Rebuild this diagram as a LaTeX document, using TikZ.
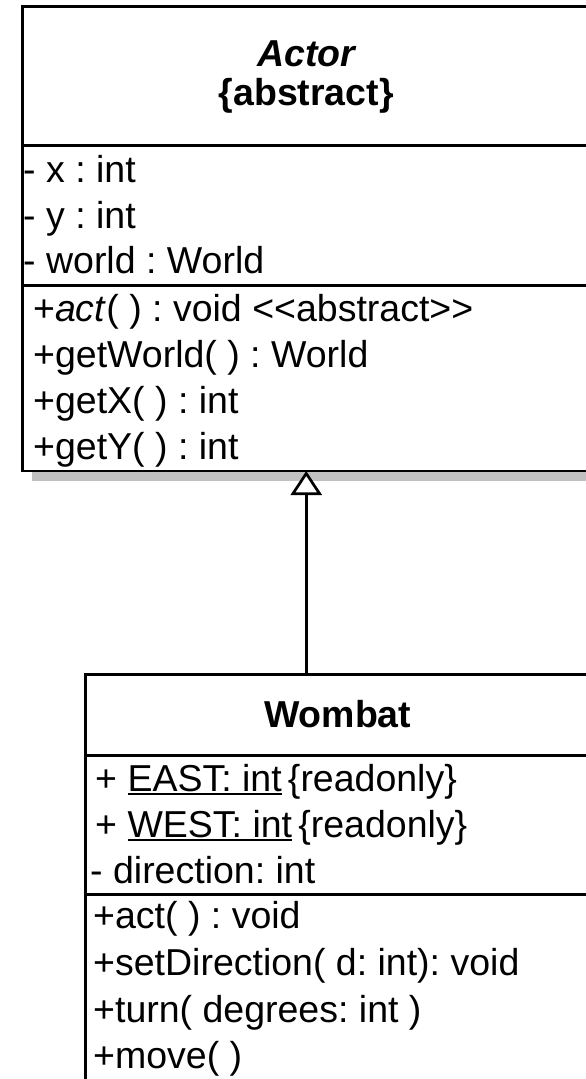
\documentclass[tikz,border=0pt]{standalone}
\usepackage{fontspec}
\setmainfont{Liberation Sans}
\usetikzlibrary{arrows.meta}
\definecolor{shadowgray}{RGB}{192,192,192}
% underline for static (class-scope) members
\newcommand\staticmember[1]{\setbox0\hbox{#1}\rlap{\rule[-4pt]{\wd0}{2.5pt}}\box0}
\tikzset{
  umlbox/.style={draw, line width=2.7pt, fill=white, inner sep=0pt, outer sep=0pt, anchor=north west},
  umlshadow/.style={fill=shadowgray, draw=none},
  divider/.style={line width=2.7pt},
  member/.style={anchor=base west, inner sep=0pt, font=\fontsize{37.5}{45}\selectfont\frenchspacing},
  classname/.style={anchor=base, inner sep=0pt, font=\fontsize{37.5}{45}\selectfont\bfseries},
  inherits/.style={line width=2.7pt, -{Triangle[length=24pt, width=31pt, fill=white]}},
}
\begin{document}
\begin{tikzpicture}[x=1pt, y=-1pt]
\useasboundingbox (0,0) rectangle (586,1079);
\clip (0,0) rectangle (586,1079);

% ---- Actor ----
\fill[umlshadow] (32,16.5) rectangle (600,481);
\node[umlbox, minimum width=567.5pt, minimum height=464.5pt] (actor) at (22.5,6.5) {};
\node[classname, font=\fontsize{37.5}{45}\selectfont\bfseries\itshape] (actorname) at (actor.north |- 0,66) {Actor};
\node[classname] (actorabstract) at (actor.north |- 0,105) {\{abstract\}};
\draw[divider] (actor.west |- 0,145.5) -- (actor.east |- 0,145.5);
\node[member] (ax) at (23,182) {- x : int};
\node[member] (ay) at (23,228) {- y : int};
\node[member] (aworld) at (23,273) {- world : World};
\draw[divider] (actor.west |- 0,285.5) -- (actor.east |- 0,285.5);
\node[member] (aact) at (33,321) {+\textit{act}( ) : void <{}<abstract>{}>};
\node[member] (agetworld) at (33,367) {+getWorld( ) : World};
\node[member] (agetx) at (33,413) {+getX( ) : int};
\node[member] (agety) at (33,459) {+getY( ) : int};

% ---- Wombat ----
\fill[umlshadow] (95,684.7) rectangle (600,1110);
\node[umlbox, minimum width=504.7pt, minimum height=430pt] (wombat) at (85.3,674.7) {};
\node[classname] (wombatname) at (wombat.north |- 0,727) {Wombat};
\draw[divider] (wombat.west |- 0,755.5) -- (wombat.east |- 0,755.5);
\node[member] (weast) at (95,791) {+ \staticmember{EAST: int}\,\{readonly\}};
\node[member] (wwest) at (95,837) {+ \staticmember{WEST: int}\,\{readonly\}};
\node[member] (wdir) at (90,883) {- direction: int};
\draw[divider] (wombat.west |- 0,894.7) -- (wombat.east |- 0,894.7);
\node[member] (wact) at (93,928) {+act( ) : void};
\node[member] (wsetdir) at (93,975) {+setDirection( d: int): void};
\node[member] (wturn) at (93,1022) {+turn( degrees: int )};
\node[member] (wmove) at (93,1068) {+move( )};

% ---- generalisation ----
\draw[inherits] (wombat.north -| actor.south) -- (actor.south);
\end{tikzpicture}
\end{document}
